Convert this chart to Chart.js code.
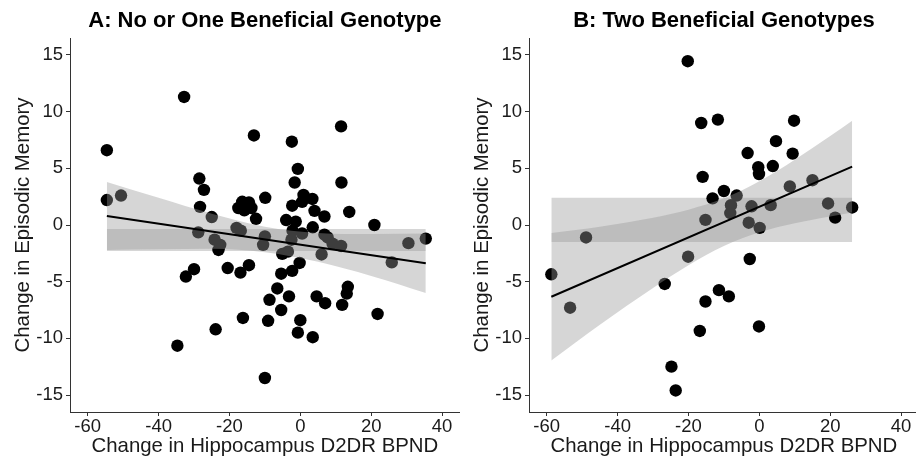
<!DOCTYPE html>
<html><head><meta charset="utf-8">
<script src="https://cdn.jsdelivr.net/npm/chart.js@4"></script>
<style>
html,body{margin:0;padding:0;background:#fff;overflow:hidden;width:916px;height:460px;}
#wrap{position:relative;width:916px;height:460px;overflow:hidden;background:#fff;}
canvas{position:absolute;top:0;}
#cA{left:0px} #cB{left:459px}
</style></head><body>
<div id="wrap"><canvas id="cA" width="466" height="460"></canvas><canvas id="cB" width="466" height="460"></canvas></div>
<script>
// ---- text ----
const titleA = 'A: No or One Beneficial Genotype';
const titleB = 'B: Two Beneficial Genotypes';
const xTitle = 'Change in Hippocampus D2DR BPND';
const yTitle = 'Change in Episodic Memory';
const xTicks = [-60, -40, -20, 0, 20, 40];
const yTicks = [-15, -10, -5, 0, 5, 10, 15];

// ---- panel A: points ----
const xA = [-54.6,-54.6,-50.6,-32.8,-28.5,-27.2,-28.3,-25.0,-28.8,-24.2,-22.6,-23.1,-18.0,-16.8,-17.5,-16.4,-15.8,-14.5,-13.8,-13.1,
            -12.5,-9.9,-10.0,-10.5,-4.0,-1.3,-2.2,0.5,-2.5,-5.1,-3.5,-0.2,-2.4,-0.7,-1.6,-2.3,0.5,0.9,3.4,4.0,
            6.8,3.5,6.8,7.7,9.1,11.5,6.0,11.5,11.6,13.8,20.9,25.8,30.5,35.4,-30.0,-32.3,-20.5,-16.9,-14.5,-5.4,
            -2.3,-6.5,-8.7,-3.2,-5.4,-16.2,-9.1,0.0,-23.9,-0.7,3.5,-34.7,-10.0,4.6,7.0,13.4,13.1,11.8,21.8];
const yA = [6.6,2.2,2.6,11.3,4.1,3.1,1.6,0.7,-0.65,-1.3,-1.75,-2.2,-0.25,-0.5,1.5,2.05,1.3,2.0,1.5,7.9,
            0.55,2.4,-1.0,-1.75,0.44,0.3,-0.5,-0.75,-1.3,-2.55,-2.35,-3.35,7.35,4.95,3.75,1.7,2.05,2.65,2.3,1.25,
            0.75,-0.2,-0.85,-1.1,-1.65,-1.85,-2.6,8.7,3.75,1.15,0.0,-3.3,-1.6,-1.2,-3.9,-4.55,-3.8,-4.2,-3.55,-4.3,
            -4.05,-5.6,-6.6,-6.3,-7.5,-8.2,-8.45,-8.4,-9.2,-9.5,-9.9,-10.65,-13.5,-6.3,-6.9,-5.45,-6.05,-7.05,-7.85];
// fit line A (end points)
const fitXA = [-54.6, 35.4];
const fitYA = [0.8, -3.38];
// confidence band A
const ciXA  = [-54.6, -40, -25, -10, 5, 20, 35.4];
const ciHiA = [3.8, 2.4, 1.0, -0.15, -0.7, -0.8, -0.75];
const ciLoA = [-2.2, -2.15, -2.1, -2.4, -3.25, -4.5, -6.0];
// horizontal band A
const hbXA  = [-54.6, 35.4];
const hbHiA = [-0.35, -0.35];
const hbLoA = [-2.3, -2.3];

// ---- panel B: points ----
const xB = [-58.7,-53.4,-48.9,-26.7,-24.8,-23.6,-20.2,-20.1,-16.8,-16.4,-16.0,-15.2,-15.2,-13.2,-11.7,-11.4,-10.0,-8.6,-8.0,-8.2,
            -6.4,-3.3,-3.0,-2.7,-2.2,-0.3,-0.1,0.1,-0.1,3.2,3.8,4.7,8.6,9.4,9.8,15.0,19.4,21.4,26.2];
const yB = [-4.35,-7.3,-1.1,-5.2,-12.5,-14.6,14.45,-2.8,-9.35,9.0,4.25,0.45,-6.75,2.35,9.3,-5.75,3.0,-6.3,1.75,1.05,
            2.6,6.35,0.2,-3.0,1.65,5.1,4.5,-0.25,-8.95,1.75,5.2,7.4,3.4,6.3,9.2,3.95,1.9,0.65,1.55];
const fitXB = [-58.7, 26.2];
const fitYB = [-6.33, 5.15];
const ciXB  = [-58.7, -45, -30, -20, -10, 0, 10, 20, 26.2];
const ciHiB = [-0.7, -0.15, 0.65, 1.35, 2.35, 3.85, 5.75, 7.85, 9.2];
const ciLoB = [-11.95, -8.8, -5.55, -3.55, -1.85, -0.65, 0.15, 0.75, 1.1];
const hbXB  = [-58.7, 26.2];
const hbHiB = [2.4, 2.4];
const hbLoB = [-1.5, -1.5];

const FAM = '"Liberation Sans", Arial, Helvetica, sans-serif';
const pts = (xs, ys) => xs.map((x, i) => ({x: x, y: ys[i]}));
const BAND = 'rgba(153,153,153,0.4)';

function ribbon(xs, ys, fill, order, smooth) {
  return {type: 'line', data: pts(xs, ys), fill: fill, backgroundColor: BAND,
          borderColor: 'rgba(0,0,0,0)', borderWidth: 0, pointRadius: 0, order: order,
          cubicInterpolationMode: smooth ? 'monotone' : 'default', tension: 0};
}

function panel(id, title, xs, ys, fx, fy, cx, chi, clo, hx, hhi, hlo) {
  new Chart(document.getElementById(id), {
    type: 'scatter',
    data: {datasets: [
      ribbon(hx, hhi, '+1', 5, false),
      ribbon(hx, hlo, false, 5, false),
      {type: 'scatter', data: pts(xs, ys), backgroundColor: '#000', borderWidth: 0, pointRadius: 6.2, order: 4},
      ribbon(cx, chi, '+1', 3, true),
      ribbon(cx, clo, false, 3, true),
      {type: 'line', data: pts(fx, fy), borderColor: '#000', borderWidth: 2, pointRadius: 0, fill: false, order: 1}
    ]},
    options: {
      responsive: false, animation: false, devicePixelRatio: 1,
      layout: {padding: {left: 0, right: 5.2, top: 0, bottom: 0}},
      plugins: {
        legend: {display: false}, tooltip: {enabled: false},
        title: {display: true, text: title, fullSize: false, color: '#000',
                font: {family: FAM, size: 22, weight: 'bold', lineHeight: 1.2},
                padding: {top: 7.8, bottom: 3.8}}
      },
      scales: {
        x: {type: 'linear', min: -65, max: 45,
            afterBuildTicks: s => { s.ticks = xTicks.map(v => ({value: v})); },
            afterFit: s => { s.height = 48; },
            ticks: {font: {family: FAM, size: 18.5}, color: '#1a1a1a', padding: 0, maxRotation: 0, autoSkip: false},
            grid: {drawOnChartArea: false, drawTicks: true, tickLength: 4, color: '#333', lineWidth: 1},
            border: {display: true, color: '#333', width: 1},
            title: {display: true, text: xTitle, color: '#1a1a1a', font: {family: FAM, size: 20.4, lineHeight: 1.2}, padding: {top: 0, bottom: 1}}
        },
        y: {type: 'linear', min: -16.5, max: 16.5,
            afterBuildTicks: s => { s.ticks = yTicks.map(v => ({value: v})); },
            afterFit: s => { s.width = 70; },
            ticks: {font: {family: FAM, size: 18.5}, color: '#1a1a1a', padding: 3},
            grid: {drawOnChartArea: false, drawTicks: true, tickLength: 4, color: '#333', lineWidth: 1},
            border: {display: true, color: '#333', width: 1},
            title: {display: true, text: yTitle, color: '#1a1a1a', font: {family: FAM, size: 20.4, lineHeight: 1.2}, padding: {top: 11, bottom: 0}}
        }
      }
    }
  });
}

panel('cA', titleA, xA, yA, fitXA, fitYA, ciXA, ciHiA, ciLoA, hbXA, hbHiA, hbLoA);
panel('cB', titleB, xB, yB, fitXB, fitYB, ciXB, ciHiB, ciLoB, hbXB, hbHiB, hbLoB);
</script>
</body></html>
